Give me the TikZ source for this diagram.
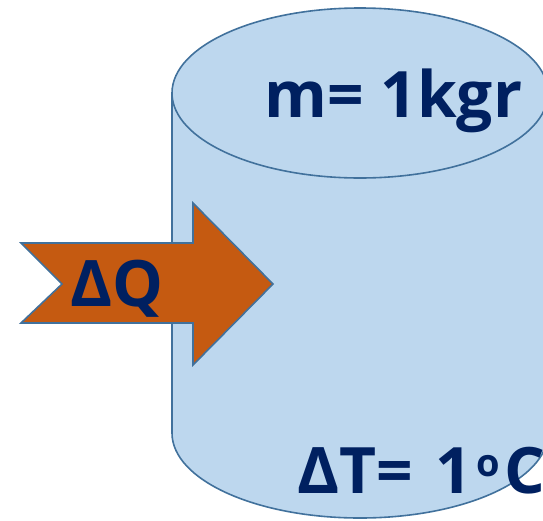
\documentclass[tikz,border=0pt]{standalone}
\usepackage{fontspec}
\setmainfont{Open Sans}
\definecolor{tankfill}{HTML}{BDD7EE}
\definecolor{tankline}{HTML}{41719C}
\definecolor{heatfill}{HTML}{C55A11}
\definecolor{labelblue}{HTML}{002060}
\begin{document}
\begin{tikzpicture}[x=1pt,y=-1pt,line width=1.6pt,
                    label/.style={inner sep=0pt,text=labelblue,font=\bfseries\fontsize{64}{64}\selectfont}]
                    \useasboundingbox (0,0) rectangle (543,520);
                    \clip (0,0) rectangle (543,520);
                    % tank
                    \draw[tankline,fill=tankfill] (172,93) -- (172,433) arc[start angle=180,end angle=0,x radius=188,y radius=85] -- (548,93);
                    \draw[tankline,fill=tankfill] (360,93) ellipse[x radius=188,y radius=85];
                    % heat arrow
                    \draw[tankline,fill=heatfill,line join=miter] (21,243) -- (193,243) -- (193,203) -- (273,284) -- (193,365) -- (193,323) -- (21,323) -- (62,284) -- cycle;
                    \node[label,anchor=base west] (heat) at (70,306) {ΔQ};
                    \node[label,anchor=base west] (mass) at (264,117) {m= 1kgr};
                    \node[label,anchor=base west] (dtemp) at (297,493) {ΔT= \kern5pt{}1\kern5pt{}\raisebox{17pt}{\fontsize{38}{38}\selectfont o}\kern4pt{}C};
                \end{tikzpicture}
\end{document}
